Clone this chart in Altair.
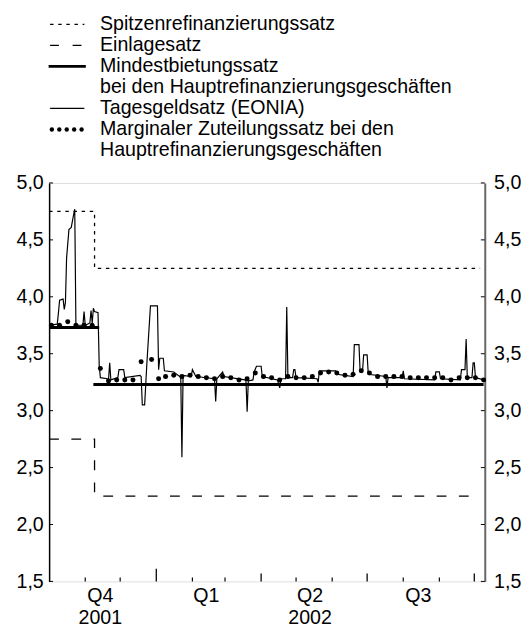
import altair as alt
import pandas as pd

FONT = "Liberation Sans"
FS = 20
W, H = 445, 407

# ---------------- data ----------------
x_start = (2001, 10, 1)
x_end = (2002, 10, 10)

# Spitzenrefinanzierungssatz (marginal lending facility)
mlf_dates = ["2001-10-01", "2001-11-09", "2002-10-06"]
mlf_values = [4.75, 4.25, 4.25]

# Einlagesatz (deposit facility)
dep_dates = ["2001-10-01", "2001-11-09", "2002-10-06"]
dep_values = [2.75, 2.25, 2.25]

# Mindestbietungssatz (minimum bid rate), two segments
mbr_start = ["2001-10-01", "2001-11-08"]
mbr_end = ["2001-11-13", "2002-10-09"]
mbr_values = [3.73, 3.23]

# Tagesgeldsatz (EONIA)
eonia_dates = [
    "2001-10-01", "2001-10-08", "2001-10-09", "2001-10-10", "2001-10-13", "2001-10-14",
    "2001-10-15", "2001-10-16", "2001-10-18", "2001-10-20", "2001-10-22", "2001-10-23",
    "2001-10-24", "2001-10-30", "2001-10-31", "2001-11-01", "2001-11-05", "2001-11-06",
    "2001-11-07", "2001-11-08", "2001-11-09", "2001-11-12", "2001-11-13", "2001-11-14",
    "2001-11-20", "2001-11-21", "2001-11-22", "2001-11-23", "2001-11-29", "2001-11-30",
    "2001-12-04", "2001-12-05", "2001-12-18", "2001-12-19", "2001-12-20", "2001-12-22",
    "2001-12-24", "2001-12-27", "2002-01-02", "2002-01-03", "2002-01-04", "2002-01-07",
    "2002-01-08", "2002-01-16", "2002-01-21", "2002-01-22", "2002-01-23", "2002-01-24",
    "2002-01-31", "2002-02-01", "2002-02-04", "2002-02-20", "2002-02-21", "2002-02-22",
    "2002-02-27", "2002-02-28", "2002-03-18", "2002-03-19", "2002-03-20", "2002-03-21",
    "2002-03-25", "2002-03-26", "2002-03-28", "2002-04-01", "2002-04-02", "2002-04-15",
    "2002-04-17", "2002-04-18", "2002-04-22", "2002-04-23", "2002-04-24", "2002-04-28",
    "2002-04-29", "2002-04-30", "2002-05-01", "2002-05-19", "2002-05-20", "2002-05-21",
    "2002-06-04", "2002-06-05", "2002-06-19", "2002-06-20", "2002-06-24", "2002-06-25",
    "2002-06-27", "2002-06-28", "2002-07-01", "2002-07-02", "2002-07-17", "2002-07-18",
    "2002-07-19", "2002-07-31", "2002-08-01", "2002-08-02", "2002-08-28", "2002-08-29",
    "2002-09-01", "2002-09-02", "2002-09-19", "2002-09-20", "2002-09-23", "2002-09-24",
    "2002-09-25", "2002-09-29", "2002-09-30", "2002-10-01", "2002-10-02", "2002-10-09",
]
eonia_values = [
    3.75, 3.76, 3.86, 3.97, 3.98, 3.89,
    3.95, 4.34, 4.59, 4.61, 4.72, 4.77,
    3.75, 3.75, 3.87, 3.75, 3.77, 3.88,
    3.77, 3.90, 3.87, 3.86, 3.40, 3.29,
    3.28, 3.27, 3.42, 3.27, 3.29, 3.36,
    3.36, 3.29, 3.31, 3.30, 3.05, 3.05,
    3.43, 3.92, 3.92, 3.36, 3.46, 3.46,
    3.35, 3.34, 3.30, 3.30, 2.59, 3.31,
    3.30, 3.36, 3.30, 3.28, 3.08, 3.28,
    3.34, 3.30, 3.27, 3.26, 2.99, 3.26,
    3.27, 3.34, 3.39, 3.39, 3.30, 3.27,
    3.20, 3.28, 3.28, 3.91, 3.29, 3.29,
    3.36, 3.36, 3.29, 3.28, 3.25, 3.35,
    3.35, 3.32, 3.30, 3.58, 3.58, 3.34,
    3.34, 3.49, 3.49, 3.32, 3.30, 3.20,
    3.29, 3.29, 3.35, 3.28, 3.27, 3.34,
    3.34, 3.28, 3.27, 3.36, 3.36, 3.63,
    3.29, 3.29, 3.42, 3.42, 3.29, 3.27,
]

# Marginaler Zuteilungssatz (weekly main refinancing operations)
mar_dates = [
    "2001-10-03", "2001-10-10", "2001-10-17", "2001-10-24", "2001-10-31", "2001-11-07",
    "2001-11-14", "2001-11-21", "2001-11-28", "2001-12-05", "2001-12-12", "2001-12-19",
    "2001-12-28", "2002-01-03", "2002-01-09", "2002-01-16", "2002-01-23", "2002-01-30",
    "2002-02-06", "2002-02-13", "2002-02-20", "2002-02-27", "2002-03-06", "2002-03-13",
    "2002-03-20", "2002-03-27", "2002-04-03", "2002-04-10", "2002-04-17", "2002-04-24",
    "2002-05-01", "2002-05-08", "2002-05-15", "2002-05-22", "2002-05-29", "2002-06-05",
    "2002-06-12", "2002-06-19", "2002-06-26", "2002-07-03", "2002-07-10", "2002-07-17",
    "2002-07-24", "2002-07-31", "2002-08-07", "2002-08-14", "2002-08-21", "2002-08-28",
    "2002-09-04", "2002-09-11", "2002-09-18", "2002-09-25", "2002-10-02", "2002-10-09",
]
mar_values = [
    3.75, 3.75, 3.78, 3.75, 3.75, 3.75,
    3.37, 3.26, 3.27, 3.27, 3.27, 3.43,
    3.45, 3.28, 3.30, 3.31, 3.30, 3.31,
    3.30, 3.29, 3.28, 3.30, 3.29, 3.27,
    3.28, 3.33, 3.30, 3.29, 3.27, 3.30,
    3.29, 3.29, 3.30, 3.33, 3.34, 3.33,
    3.31, 3.32, 3.35, 3.33, 3.30, 3.30,
    3.30, 3.30, 3.29, 3.29, 3.29, 3.29,
    3.29, 3.27, 3.29, 3.29, 3.29, 3.27,
]

# axis texts and ticks
y_ticks = [1.5, 2.0, 2.5, 3.0, 3.5, 4.0, 4.5, 5.0]
quarter_labels = ["Q4", "Q1", "Q2", "Q3"]
quarter_label_dates = ["2001-11-14", "2002-02-13", "2002-05-13", "2002-08-14"]
year_labels = ["2001", "2002"]
year_label_dates = ["2001-11-14", "2002-05-13"]
month_tick_dates = ["2001-11-01", "2001-12-01", "2002-02-01", "2002-03-01",
                    "2002-05-01", "2002-06-01", "2002-08-01", "2002-09-01"]
quarter_tick_dates = ["2002-04-01", "2002-07-01", "2002-10-01"]
year_tick_dates = ["2002-01-01"]

legend_labels = [
    "Spitzenrefinanzierungssatz",
    "Einlagesatz",
    "Mindestbietungssatz",
    "bei den Hauptrefinanzierungsgeschäften",
    "Tagesgeldsatz (EONIA)",
    "Marginaler Zuteilungssatz bei den",
    "Hauptrefinanzierungsgeschäften",
]

# ---------------- scales ----------------
xscale = alt.Scale(
    type="utc",
    domain=[alt.DateTime(year=x_start[0], month=x_start[1], date=x_start[2], utc=True),
            alt.DateTime(year=x_end[0], month=x_end[1], date=x_end[2], utc=True)],
)
yscale = alt.Scale(domain=[1.5, 5.0], nice=False, zero=False)
label_expr = "replace(format(datum.value, '.1f'), '.', ',')"


def X(field="date"):
    return alt.X(f"{field}:T", scale=xscale, axis=None)


def Y(field="v"):
    return alt.Y(f"{field}:Q", scale=yscale, axis=None)


mlf_df = pd.DataFrame({"date": mlf_dates, "v": mlf_values})
dep_df = pd.DataFrame({"date": dep_dates, "v": dep_values})
mbr_df = pd.DataFrame({"date": mbr_start, "end": mbr_end, "v": mbr_values})
eonia_df = pd.DataFrame({"date": eonia_dates, "v": eonia_values})
mar_df = pd.DataFrame({"date": mar_dates, "v": mar_values})

mlf = alt.Chart(mlf_df).mark_line(
    interpolate="step-after", color="black", strokeWidth=1.3, strokeDash=[3.5, 4.8]
).encode(x=X(), y=Y())

dep = alt.Chart(dep_df).mark_line(
    interpolate="step-after", color="black", strokeWidth=1.3, strokeDash=[10, 12.7]
).encode(x=X(), y=Y())

mbr = alt.Chart(mbr_df).mark_rule(color="black", strokeWidth=3).encode(
    x=X(), x2="end:T", y=Y()
)

eonia = alt.Chart(eonia_df).mark_line(color="black", strokeWidth=1.2).encode(
    x=alt.X("date:T", scale=xscale,
            axis=alt.Axis(title=None, labels=False, ticks=False, grid=False,
                          domainColor="black", domainWidth=1.5)),
    y=alt.Y("v:Q", scale=yscale,
            axis=alt.Axis(orient="left", title=None, values=y_ticks, labelExpr=label_expr,
                          ticks=False, grid=False, domainColor="black", domainWidth=1.5,
                          labelPadding=6, labelFontSize=FS, labelFont=FONT,
                          labelColor="black", labelOverlap=False)),
)

mar = alt.Chart(mar_df).mark_point(filled=True, color="black", size=26, opacity=1).encode(
    x=X(),
    y=alt.Y("v:Q", scale=yscale,
            axis=alt.Axis(orient="right", title=None, values=y_ticks, labelExpr=label_expr,
                          ticks=False, grid=False, domainColor="#666666", domainWidth=2,
                          labelPadding=9, labelFontSize=FS, labelFont=FONT,
                          labelColor="black", labelOverlap=False)),
)

# inward ticks
yt_df = pd.DataFrame({"v": y_ticks})
ytick_left = alt.Chart(yt_df).mark_rule(color="black", strokeWidth=1).encode(
    y=Y(), x=alt.value(0), x2=alt.value(4))
ytick_right = alt.Chart(yt_df).mark_rule(color="black", strokeWidth=1).encode(
    y=Y(), x=alt.value(W - 4), x2=alt.value(W))


def xticks(dates, length, width):
    return alt.Chart(pd.DataFrame({"date": dates})).mark_rule(
        color="black", strokeWidth=width).encode(
        x=X(), y=alt.value(H), y2=alt.value(H - length))


xt_month = xticks(month_tick_dates, 4, 1.2)
xt_quarter = xticks(quarter_tick_dates, 8, 1.3)
xt_year = xticks(year_tick_dates, 13, 1.3)

q_text = alt.Chart(pd.DataFrame({"date": quarter_label_dates, "t": quarter_labels})).mark_text(
    font=FONT, fontSize=FS, color="black", baseline="alphabetic", align="center"
).encode(x=X(), y=alt.value(H + 21), text="t:N")

yr_text = alt.Chart(pd.DataFrame({"date": year_label_dates, "t": year_labels})).mark_text(
    font=FONT, fontSize=FS, color="black", baseline="alphabetic", align="center"
).encode(x=X(), y=alt.value(H + 43), text="t:N")

# ---------------- legend (manual, above plot) ----------------
LEG_BASE = -156.0   # baseline of the first legend row relative to plot top
LEG_STEP = 21.47
LEG_TX = 52.0
rows_df = pd.DataFrame({"t": legend_labels,
                        "yy": [LEG_BASE + i * LEG_STEP for i in range(len(legend_labels))]})
leg_text = alt.Chart(rows_df).mark_text(
    font=FONT, fontSize=FS, color="black", baseline="alphabetic", align="left"
).encode(x=alt.value(LEG_TX), y=alt.Y("yy:Q", scale=None), text="t:N")

one = pd.DataFrame({"a": [0]})


def leg_rule(row, x0, x1, **kw):
    yy = LEG_BASE + row * LEG_STEP - 6
    return alt.Chart(one).mark_rule(color="black", **kw).encode(
        x=alt.value(x0), x2=alt.value(x1), y=alt.value(yy))


leg_mlf = leg_rule(0, 1, 36, strokeWidth=1.3, strokeDash=[3.5, 4.8])
leg_dep = leg_rule(1, 1, 36, strokeWidth=1.3, strokeDash=[9, 14])
leg_mbr = leg_rule(2, -0.5, 37.5, strokeWidth=3)
leg_eon = leg_rule(4, 1, 36, strokeWidth=1.2)
dots_df = pd.DataFrame({"px": [2.8 + 7.6 * i for i in range(5)],
                        "py": [LEG_BASE + 5 * LEG_STEP - 6] * 5})
leg_dots = alt.Chart(dots_df).mark_point(filled=True, color="black", size=20, opacity=1).encode(
    x=alt.X("px:Q", scale=None), y=alt.Y("py:Q", scale=None))

chart = alt.layer(
    eonia, mar, mlf, dep, mbr,
    ytick_left, ytick_right, xt_month, xt_quarter, xt_year,
    q_text, yr_text,
    leg_text, leg_mlf, leg_dep, leg_mbr, leg_eon, leg_dots,
).resolve_scale(y="independent").properties(
    width=W, height=H,
    padding={"left": 8, "top": 0, "right": 0, "bottom": 0},
).configure_view(stroke=None).configure(font=FONT)

chart.save("out.html", embed_options={"renderer": "svg", "actions": False})
